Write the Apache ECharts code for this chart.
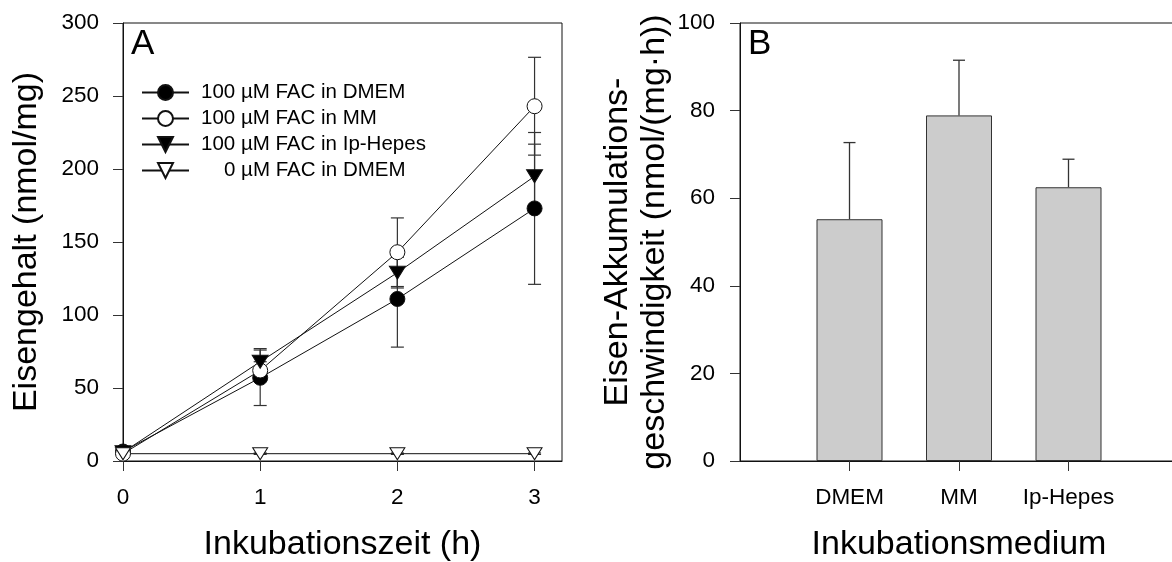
<!DOCTYPE html>
<html>
<head>
<meta charset="utf-8">
<script src="https://cdn.jsdelivr.net/npm/echarts@6/dist/echarts.min.js"></script>
<style>
  html, body { margin: 0; padding: 0; background: #fff; }
  #chart { width: 1172px; height: 562px; }
</style>
</head>
<body>
<div id="chart"></div>
<script>
// Panel A: iron content over incubation time
const times = [0, 1, 2, 3];
const timeTicks = [0, 1, 2, 3];
const seriesNames = [
  '100 µM FAC in DMEM',
  '100 µM FAC in MM',
  '100 µM FAC in Ip-Hepes',
  '0 µM FAC in DMEM'
];
const facDmem = [6.5, 57, 111, 173];
const facDmemErr = [2, 19, 33, 52];
const facMm = [5, 62, 143, 243];
const facMmErr = [1, 6, 23.5, 33.5];
const facIpHepes = [6, 68, 129, 195];
const facIpHepesErr = [1, 9, 10.5, 22];
const noFacDmem = [5, 5, 5, 5];
const noFacDmemErr = [0.5, 0.5, 0.5, 0.5];
const contentTicks = [0, 50, 100, 150, 200, 250, 300];

// Panel B: accumulation rate per medium
const media = ['DMEM', 'MM', 'Ip-Hepes'];
const rateValues = [55.2, 78.9, 62.5];
const rateErr = [17.5, 12.6, 6.4];
const rateTicks = [0, 20, 40, 60, 80, 100];

const FONT = "'Liberation Sans', Arial, Helvetica, sans-serif";
const INK = '#111';
const ERR = '#333';

const chart = echarts.init(document.getElementById('chart'), null, { renderer: 'canvas' });

function pairs(xs, ys, es) {
  return xs.map((x, i) => es ? [x, ys[i], es[i]] : [x, ys[i]]);
}

// symmetric error bars with caps
function errBoth(params, api) {
  const x = api.value(0), y = api.value(1), e = api.value(2);
  const lo = api.coord([x, y - e]);
  const hi = api.coord([x, y + e]);
  const h = 6.5;
  const st = { stroke: ERR, lineWidth: 1.2 };
  return {
    type: 'group',
    children: [
      { type: 'line', shape: { x1: lo[0], y1: lo[1], x2: hi[0], y2: hi[1] }, style: st },
      { type: 'line', shape: { x1: lo[0] - h, y1: lo[1], x2: lo[0] + h, y2: lo[1] }, style: st },
      { type: 'line', shape: { x1: hi[0] - h, y1: hi[1], x2: hi[0] + h, y2: hi[1] }, style: st }
    ]
  };
}

// upper-only error bars for the bar panel
function errUp(params, api) {
  const x = api.value(0), y = api.value(1), e = api.value(2);
  const lo = api.coord([x, y]);
  const hi = api.coord([x, y + e]);
  const h = 6;
  const st = { stroke: ERR, lineWidth: 1.3 };
  return {
    type: 'group',
    children: [
      { type: 'line', shape: { x1: lo[0], y1: lo[1], x2: hi[0], y2: hi[1] }, style: st },
      { type: 'line', shape: { x1: hi[0] - h, y1: hi[1], x2: hi[0] + h, y2: hi[1] }, style: st }
    ]
  };
}

function lineSeries(name, ys, symbol, size, fill, rotate) {
  return {
    name: name,
    type: 'line',
    xAxisIndex: 0, yAxisIndex: 0,
    data: pairs(times, ys),
    symbol: symbol,
    symbolSize: size,
    symbolRotate: rotate || 0,
    showAllSymbol: true,
    lineStyle: { color: INK, width: 1 },
    itemStyle: { color: fill, borderColor: INK, borderWidth: 1, opacity: 1 },
    emphasis: { disabled: true },
    z: 3
  };
}

function errSeries(ys, es) {
  return {
    type: 'custom',
    xAxisIndex: 0, yAxisIndex: 0,
    data: pairs(times, ys, es),
    renderItem: errBoth,
    encode: { x: 0, y: 1 },
    silent: true,
    z: 2
  };
}

const axisLineStyle = { lineStyle: { color: INK, width: 1 } };
const tickStyle = { show: true, inside: false, length: 10, lineStyle: { color: '#333', width: 1 } };
const tickLabel = { color: '#000', fontFamily: FONT, fontSize: 22.5 };
const titleStyle = { color: '#000', fontFamily: FONT, fontSize: 34 };

const option = {
  animation: false,
  backgroundColor: '#fff',
  textStyle: { fontFamily: FONT },
  grid: [
    { left: 123, top: 23, width: 439, height: 438, show: true, borderColor: INK, borderWidth: 1, backgroundColor: 'transparent', containLabel: false, outerBoundsMode: 'none' },
    { left: 740, top: 23, width: 438, height: 438, show: true, borderColor: INK, borderWidth: 1, backgroundColor: 'transparent', containLabel: false, outerBoundsMode: 'none' }
  ],
  xAxis: [
    {
      gridIndex: 0, type: 'value', min: 0, max: 3.2,
      axisLine: axisLineStyle,
      axisTick: Object.assign({ customValues: timeTicks }, tickStyle),
      axisLabel: Object.assign({ customValues: timeTicks, margin: 25 }, tickLabel),
      splitLine: { show: false },
      name: 'Inkubationszeit (h)', nameLocation: 'middle', nameGap: 67,
      nameTextStyle: titleStyle
    },
    {
      gridIndex: 1, type: 'value', min: 0, max: 4,
      axisLine: axisLineStyle,
      axisTick: Object.assign({ customValues: [1, 2, 3] }, tickStyle),
      axisLabel: Object.assign({
        customValues: [1, 2, 3], margin: 25,
        formatter: v => media[Math.round(v) - 1] || ''
      }, tickLabel),
      splitLine: { show: false },
      name: 'Inkubationsmedium', nameLocation: 'middle', nameGap: 67,
      nameTextStyle: titleStyle
    }
  ],
  yAxis: [
    {
      gridIndex: 0, type: 'value', min: 0, max: 300, interval: 50,
      axisLine: Object.assign({ show: true }, axisLineStyle),
      axisTick: Object.assign({ customValues: contentTicks }, tickStyle),
      axisLabel: Object.assign({ customValues: contentTicks, margin: 24 }, tickLabel),
      splitLine: { show: false },
      name: 'Eisengehalt (nmol/mg)', nameLocation: 'middle', nameGap: 79,
      nameTextStyle: titleStyle
    },
    {
      gridIndex: 1, type: 'value', min: 0, max: 100, interval: 20,
      axisLine: Object.assign({ show: true }, axisLineStyle),
      axisTick: Object.assign({ customValues: rateTicks }, tickStyle),
      axisLabel: Object.assign({ customValues: rateTicks, margin: 25 }, tickLabel),
      splitLine: { show: false },
      name: 'Eisen-Akkumulations-\ngeschwindigkeit (nmol/(mg·h))', nameLocation: 'middle', nameGap: 66,
      nameTextStyle: Object.assign({ lineHeight: 37 }, titleStyle)
    }
  ],
  legend: {
    left: 141, top: 82, padding: 0,
    orient: 'vertical',
    itemWidth: 47, itemHeight: 18.75, itemGap: 5,
    selectedMode: false,
    textStyle: { color: '#000', fontFamily: FONT, fontSize: 20.5, padding: [0, 0, 0, 7] },
    data: [
      { name: seriesNames[0] },
      { name: seriesNames[1] },
      { name: seriesNames[2] },
      { name: seriesNames[3], textStyle: { padding: [0, 0, 0, 30] } }
    ]
  },
  graphic: [
    { type: 'text', left: 131, top: 27, style: { text: 'A', fontFamily: FONT, fontSize: 35, fill: '#000' } },
    { type: 'text', left: 748, top: 27, style: { text: 'B', fontFamily: FONT, fontSize: 35, fill: '#000' } }
  ],
  series: [
    errSeries(facDmem, facDmemErr),
    errSeries(facMm, facMmErr),
    errSeries(facIpHepes, facIpHepesErr),
    errSeries(noFacDmem, noFacDmemErr),
    lineSeries(seriesNames[0], facDmem, 'circle', 15, '#000'),
    lineSeries(seriesNames[1], facMm, 'circle', 15, '#fff'),
    lineSeries(seriesNames[2], facIpHepes, 'triangle', [16, 13], '#000', 180),
    lineSeries(seriesNames[3], noFacDmem, 'triangle', [15, 12], '#fff', 180),
    {
      type: 'bar',
      xAxisIndex: 1, yAxisIndex: 1,
      data: pairs([1, 2, 3], rateValues),
      barWidth: 66,
      itemStyle: { color: '#cccccc', borderColor: '#333', borderWidth: 1 },
      emphasis: { disabled: true },
      z: 2
    },
    {
      type: 'custom',
      xAxisIndex: 1, yAxisIndex: 1,
      data: pairs([1, 2, 3], rateValues, rateErr),
      renderItem: errUp,
      encode: { x: 0, y: 1 },
      silent: true,
      z: 1
    }
  ]
};

chart.setOption(option);
</script>
</body>
</html>
